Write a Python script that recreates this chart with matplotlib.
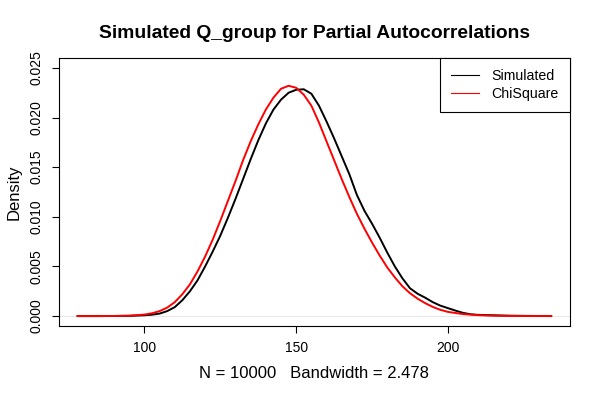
import matplotlib
matplotlib.use('Agg')
import matplotlib.pyplot as plt
from matplotlib.lines import Line2D

plt.rcParams['font.family'] = ['Liberation Sans', 'DejaVu Sans']

# density estimate of the simulated Q_group values (in units of 1e-3)
sim_x = [78, 85, 90, 95, 100, 102.5, 105, 107.5, 110, 112.5, 115, 117.5, 120, 122.5, 125, 127.5,
         130, 132.5, 135, 137.5, 140, 142.5, 145, 147.5, 150, 152.5, 155, 157.5, 160, 162.5,
         165, 167.5, 170, 172.5, 175, 177.5, 180, 182.5, 185, 187.5, 190, 192.5, 195, 197.5,
         200, 202.5, 205, 207.5, 210, 215, 220, 225, 234]
sim_y = [0, 0, 0.01, 0.02, 0.08, 0.14, 0.25, 0.5, 0.9, 1.6, 2.5, 3.6, 5.0, 6.5, 8.1, 9.9,
         11.8, 13.8, 15.8, 17.7, 19.4, 20.8, 21.8, 22.5, 22.8, 22.85, 22.4, 21.2, 19.6, 17.9,
         16.1, 14.3, 12.2, 10.6, 9.3, 7.9, 6.4, 5.0, 3.8, 2.8, 2.25, 1.85, 1.4, 1.05,
         0.8, 0.55, 0.32, 0.18, 0.12, 0.08, 0.04, 0.02, 0]

# chi-square reference density
chi_x = [78, 85, 90, 95, 100, 102.5, 105, 107.5, 110, 112.5, 115, 117.5, 120, 122.5, 125, 127.5,
         130, 132.5, 135, 137.5, 140, 142.5, 145, 147.5, 150, 152.5, 155, 157.5, 160, 162.5,
         165, 167.5, 170, 172.5, 175, 177.5, 180, 182.5, 185, 187.5, 190, 192.5, 195, 197.5,
         200, 205, 210, 215, 220, 225, 234]
chi_y = [0, 0, 0.01, 0.04, 0.15, 0.28, 0.5, 0.85, 1.4, 2.2, 3.2, 4.5, 6.0, 7.7, 9.6, 11.6,
         13.6, 15.7, 17.6, 19.3, 20.8, 22.0, 22.9, 23.2, 23.0, 22.3, 21.2, 19.5, 17.6, 15.7,
         13.8, 12.0, 10.3, 8.8, 7.4, 6.1, 4.9, 3.9, 3.0, 2.3, 1.75, 1.3, 0.92, 0.63,
         0.42, 0.2, 0.09, 0.04, 0.015, 0.005, 0]

sim_y = [v / 1000 for v in sim_y]
chi_y = [v / 1000 for v in chi_y]

fig = plt.figure(figsize=(6, 4), dpi=100)
ax = fig.add_axes([0.098, 0.185, 0.852, 0.67])

ax.axhline(0, color='#dddddd', lw=0.5, zorder=0)
ax.plot(sim_x, sim_y, color='black', lw=1.4)
ax.plot(chi_x, chi_y, color='red', lw=1.4)

ax.set_xlim(71.8, 240.2)
ax.set_ylim(-0.001, 0.026)
ax.set_xticks([100, 150, 200])
ax.set_yticks([0, 0.005, 0.01, 0.015, 0.02, 0.025])
ax.set_yticklabels(['0.000', '0.005', '0.010', '0.015', '0.020', '0.025'], rotation=90, va='center')
ax.tick_params(length=5, width=0.8, labelsize=10, pad=6)
for s in ax.spines.values():
    s.set_linewidth(0.8)

ax.set_title('Simulated Q_group for Partial Autocorrelations', fontsize=13.9, fontweight='bold', pad=14.5)
ax.set_xlabel('N = 10000   Bandwidth = 2.478', fontsize=12, labelpad=8)
ax.set_ylabel('Density', fontsize=12, labelpad=6)

handles = [Line2D([], [], color='black', lw=0.8), Line2D([], [], color='red', lw=0.8)]
leg = ax.legend(handles, ['Simulated', 'ChiSquare'], loc='upper right', fancybox=False,
                edgecolor='black', framealpha=1, borderaxespad=0, fontsize=10.2,
                handlelength=2.0, handletextpad=0.85, borderpad=0.8, labelspacing=0.25)
leg.get_frame().set_linewidth(0.8)

fig.savefig('out.png', dpi=100)
